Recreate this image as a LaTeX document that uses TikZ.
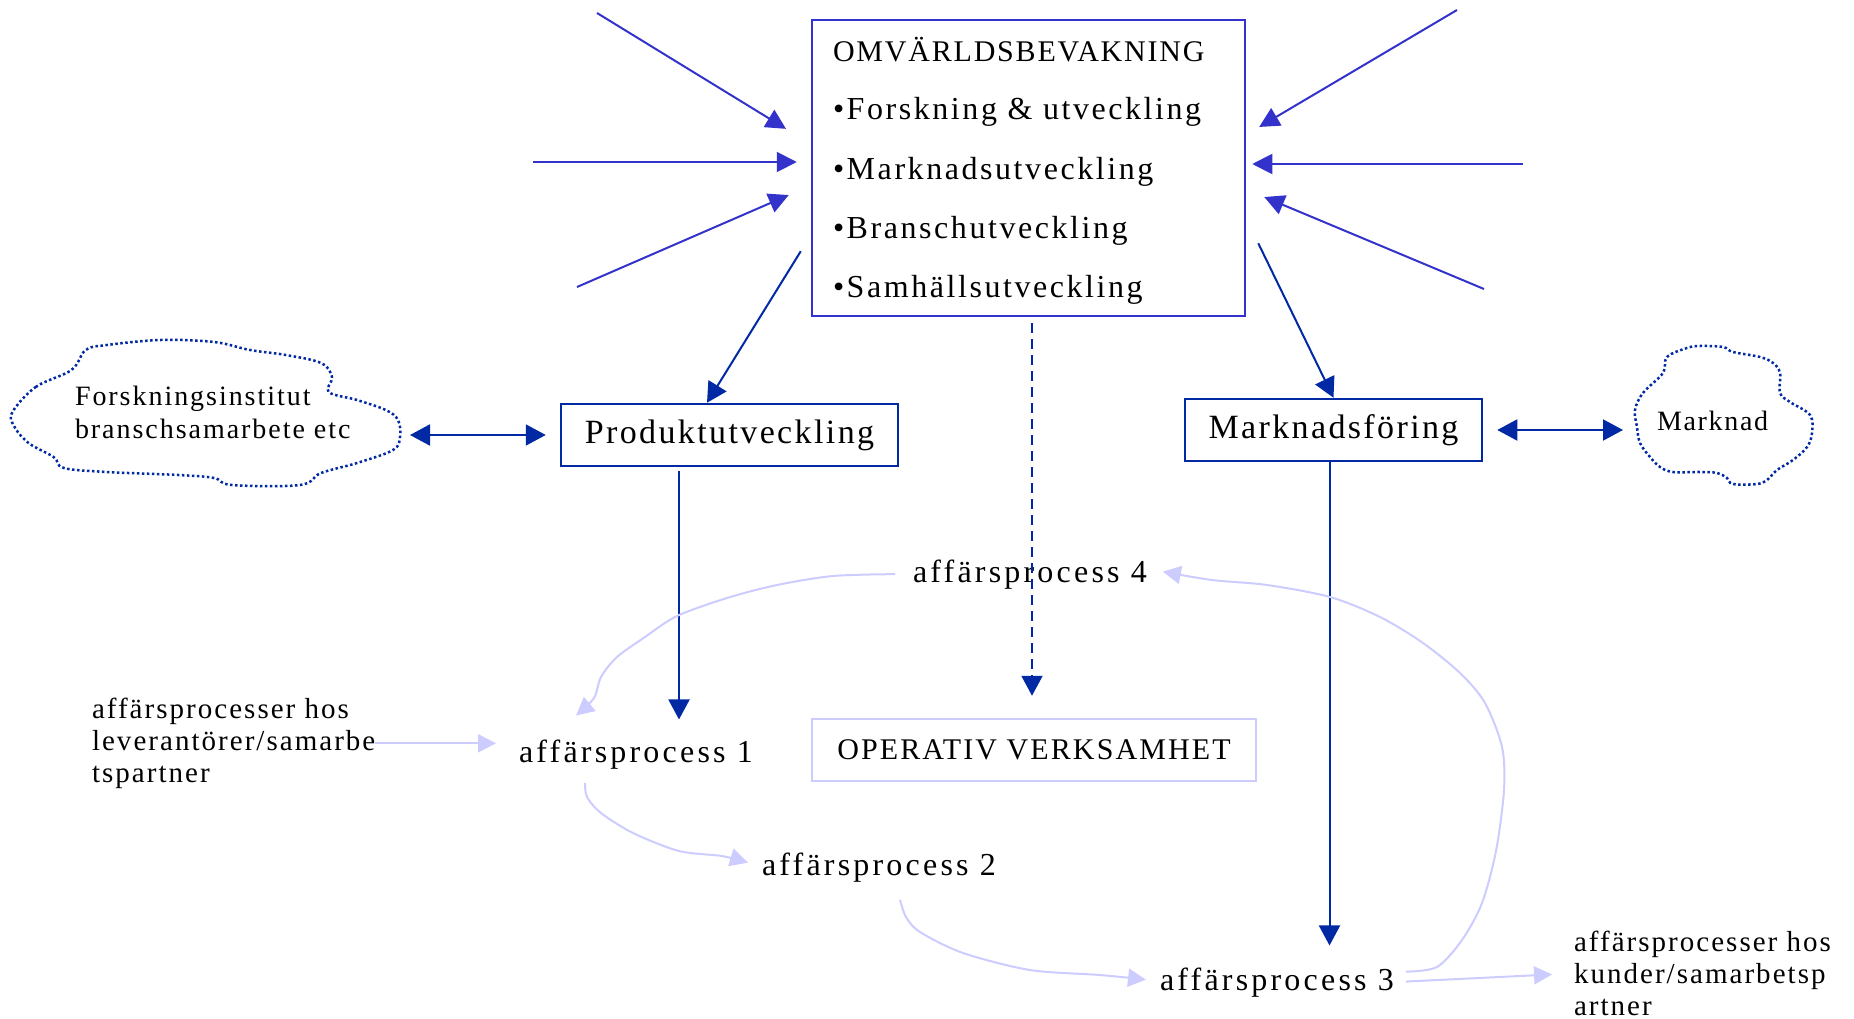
\documentclass[tikz,border=0pt]{standalone}
\usepackage{fontspec}
\setmainfont{Liberation Serif}
\usetikzlibrary{arrows.meta,calc}
\definecolor{medblue}{HTML}{3333CC}
\definecolor{dkblue}{HTML}{0029A3}
\definecolor{lav}{HTML}{CCCCFF}
\newcommand{\fsz}[3]{\fontsize{#1}{#2}\selectfont\addfontfeature{LetterSpace=#3}}
\begin{document}
\begin{tikzpicture}[x=1pt,y=-1pt,
  txt/.style={inner sep=0pt, outer sep=0pt},
  boxA/.style={draw=medblue, line width=2.5pt, inner sep=0pt},
  boxB/.style={draw=dkblue, line width=2.5pt, inner sep=0pt},
  boxC/.style={draw=lav, line width=2.5pt, inner sep=0pt},
  inarr/.style={medblue, line width=2pt, -{Triangle[length=20pt,width=20pt]}},
  darr/.style={dkblue, line width=2pt, -{Triangle[length=20pt,width=21pt]}},
  dblarr/.style={dkblue, line width=2pt, {Triangle[length=20pt,width=21pt]}-{Triangle[length=20pt,width=21pt]}},
  lavarr/.style={lav, line width=2pt, -{Triangle[length=18pt,width=18pt]}},
  cloudline/.style={dkblue, line width=2.5pt, dash pattern=on 2.5pt off 2.5pt},
]
\useasboundingbox (0,0) rectangle (1854,1019);

% top box
\node[boxA, minimum width=433pt, minimum height=296pt] (omv) at (1028.5,168) {};
\node[txt, anchor=base west, font={\fsz{30}{36}{6}}] (omv1) at (833,62) {OMVÄRLDSBEVAKNING};
\node[txt, anchor=base west, font={\fsz{32}{38}{8}}] (omv2) at (833,120) {•Forskning \& utveckling};
\node[txt, anchor=base west, font={\fsz{32}{38}{8}}] (omv3) at (833,180) {•Marknadsutveckling};
\node[txt, anchor=base west, font={\fsz{32}{38}{8}}] (omv4) at (833,238) {•Branschutveckling};
\node[txt, anchor=base west, font={\fsz{32}{38}{8}}] (omv5) at (833,297) {•Samhällsutveckling};

% boxes
\node[boxB, minimum width=337pt, minimum height=62pt, font={\fsz{34}{40}{7}}] (pu) at (729.5,435) {Produktutveckling};
\node[boxB, minimum width=297pt, minimum height=62pt, font={\fsz{34}{40}{7}}] (mf) at (1333.5,430) {Marknadsföring};
\node[boxC, minimum width=444pt, minimum height=62pt, font={\fsz{30}{36}{7}}] (op) at (1034,750) {OPERATIV VERKSAMHET};

% process labels
\node[txt, anchor=base west, font={\fsz{32}{38}{10}}] (ap1) at (519,762) {affärsprocess 1};
\node[txt, anchor=base west, font={\fsz{32}{38}{10}}] (ap2) at (762,875) {affärsprocess 2};
\node[txt, anchor=base west, font={\fsz{32}{38}{10}}] (ap3) at (1160,990) {affärsprocess 3};
\node[txt, anchor=base west, font={\fsz{32}{38}{10}}] (ap4) at (913,582) {affärsprocess 4};

\node[txt, anchor=north west, align=left, font={\fsz{29}{32}{7}}] (lev) at (92,698)
  {affärsprocesser hos\\leverantörer/samarbe\\tspartner};
\node[txt, anchor=north west, align=left, font={\fsz{29}{32}{7}}] (kund) at (1574,931)
  {affärsprocesser hos\\kunder/samarbetsp\\artner};

% clouds
\draw[cloudline] plot[smooth cycle, tension=0.6] coordinates {
  (12.5,412) (35.7,387) (71.4,370) (85.7,350) (107,345) (160.7,340) (214,342)
  (250,350) (285.7,355) (321,363) (332,377) (328.6,392) (357,400) (385.7,410)
  (398,420) (400,437) (393,450) (357,463) (321,473) (300,485) (232,485)
  (214,478) (178.6,475) (107,472) (64,468) (53.6,457) (28.6,443) (14,426)};
\node[txt, anchor=north west, align=left, font={\fsz{28}{33}{7}}] (cloudL) at (75,386)
  {Forskningsinstitut\\branschsamarbete etc};
\coordinate (cloudLe) at (400,435);

\draw[cloudline] plot[smooth cycle, tension=0.6] coordinates {
  (1635,410) (1643,393) (1663,373) (1667,357) (1687,348) (1700,346) (1723,347)
  (1733,352) (1760,357) (1773,363) (1780,373) (1780,393) (1790,402) (1810,415)
  (1812,433) (1807,447) (1793,460) (1777,470) (1767,480) (1757,484) (1733,484)
  (1727,478) (1717,473) (1700,472) (1673,472) (1660,467) (1650,457) (1640,443)
  (1637,427)};
\node[txt, anchor=base west, font={\fsz{28}{33}{6}}] (mkt) at (1657,430) {Marknad};
\coordinate (cloudRw) at (1635,430);

% incoming arrows
\coordinate (s1) at (597,13);
\coordinate (s2) at (533,162);
\coordinate (s3) at (577,287);
\coordinate (s4) at (1457,10);
\coordinate (s5) at (1523,164);
\coordinate (s6) at (1484,289);
\draw[inarr, shorten >=29pt] (s1) -- ($(omv.west)+(0,-24)$);
\draw[inarr, shorten >=14pt] (s2) -- ($(omv.west)+(0,-6)$);
\draw[inarr, shorten >=24pt] (s3) -- ($(omv.west)+(0,17.5)$);
\draw[inarr, shorten >=15pt] (s4) -- ($(omv.east)+(0,-33.4)$);
\draw[inarr, shorten >=6pt] (s5) -- ($(omv.east)+(0,-4)$);
\draw[inarr, shorten >=19.5pt] (s6) -- ($(omv.east)+(0,21.5)$);

% dark blue arrows
\draw[darr] ($(omv.south west)+(-10,-66)$) -- ($(pu.north)+(-22.5,0)$);
\draw[darr] ($(omv.south east)+(12,-74)$) -- (mf.north);
\draw[darr, dash pattern=on 10pt off 6pt, shorten <=6pt, shorten >=22pt]
  ($(omv.south)+(3.5,0)$) -- ($(op.north)+(-2,0)$);
\coordinate (puo) at ($(pu.south)+(-50.5,0)$);
\draw[darr, shorten <=4pt, shorten >=20pt] (puo) -- (puo |- ap1.north);
\coordinate (mfo) at ($(mf.south)+(-4,0)$);
\draw[darr, shorten >=22pt] (mfo) -- (mfo |- ap3.north);
\draw[dblarr, shorten <=10pt, shorten >=14pt] (cloudLe) -- (pu.west);
\draw[dblarr, shorten <=14pt, shorten >=12pt] (mf.east) -- (cloudRw);

% lavender process arrows
\draw[lavarr, shorten >=23pt] (lev.east) -- (lev.east -| ap1.west);
\draw[lavarr, shorten <=12pt, shorten >=22pt] (ap3.east) -- (kund.west);

\coordinate (a4s) at ($(ap4.west)+(-18,0)$);
\coordinate (a1t) at ($(ap1.north west)+(57,-24)$);
\draw[lavarr] plot[smooth, tension=0.5] coordinates {(a4s) (833,576) (777,585) (727,598)
  (677,616) (645,637) (617,657) (601,677) (594,698) (a1t)};

\coordinate (a1s) at ($(ap1.south west)+(66,14)$);
\coordinate (a2t) at ($(ap2.west)+(-14,-4.5)$);
\draw[lavarr] plot[smooth, tension=0.5] coordinates {(a1s) (587,797) (601,813) (633,833)
  (679,851) (722,856) (a2t)};

\coordinate (a2s) at ($(ap2.south west)+(138,18)$);
\coordinate (a3t) at ($(ap3.west)+(-14,-2.5)$);
\draw[lavarr] plot[smooth, tension=0.5] coordinates {(a2s) (906,917) (920,932) (963,953)
  (1030,970) (1100,975) (a3t)};

\coordinate (a3s) at ($(ap3.east)+(12,-10.5)$);
\coordinate (a4t) at ($(ap4.east)+(16,-2.5)$);
\draw[lavarr] plot[smooth, tension=0.5] coordinates {(a3s) (1437,967) (1462,940) (1482,903)
  (1496,851) (1504,790) (1502,747) (1485,703) (1460,673) (1423,643) (1380,617)
  (1330,597) (1267,585) (1212,580) (a4t)};
\end{tikzpicture}
\end{document}
